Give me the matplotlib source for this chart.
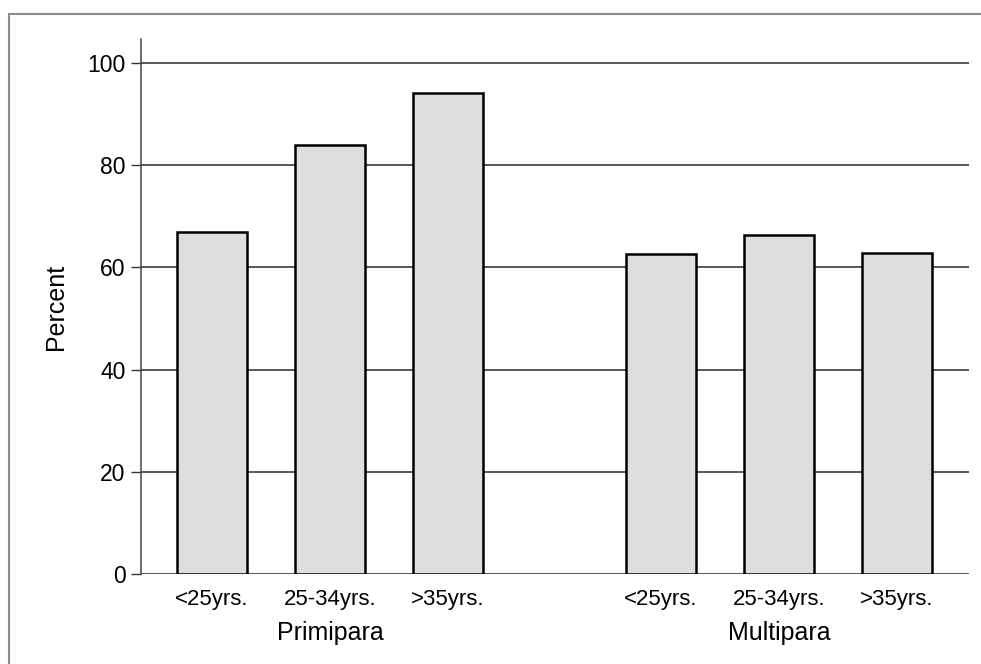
import matplotlib
matplotlib.use("Agg")
import matplotlib.pyplot as plt
import matplotlib.transforms as mtransforms
from matplotlib.patches import Rectangle

plt.rcParams['font.family'] = ['Liberation Sans', 'DejaVu Sans']

groups = ["Primipara", "Multipara"]
age_labels = ["<25yrs.", "25-34yrs.", ">35yrs."]
primipara = [67, 84, 94.2]
multipara = [62.7, 66.4, 62.9]
yticks = [0, 20, 40, 60, 80, 100]

fig = plt.figure(figsize=(9.81, 6.64), dpi=100)
# outer frame
fig.patches.append(Rectangle((9/981, -0.1), 1.2, 1 - 14/664 + 0.1, transform=fig.transFigure,
                             fill=False, edgecolor='#8c8c8c', linewidth=1.5, zorder=0))
ax = fig.add_axes([141/981, 1 - 574/664, (969 - 141)/981, (574 - 39)/664])

gap = 1.8
positions = [0, 1, 2] + [gap + 2 + i for i in range(3)]
values = primipara + multipara
ax.bar(positions, values, width=0.593, color='#dedede', edgecolor='black', linewidth=1.8, zorder=3)

ax.set_xlim(-0.6, positions[-1] + 0.61)
ax.set_ylim(0, 104.7)
ax.set_yticks(yticks)
ax.set_yticklabels([str(v) for v in yticks], fontsize=16.5)
ax.set_xticks(positions)
ax.set_xticklabels(age_labels * 2, fontsize=16)
ax.tick_params(axis='x', length=0, pad=11)
ax.tick_params(axis='y', length=7, width=1, color='#333333', pad=4)

ax.yaxis.grid(True, color='#2a2a2a', linewidth=1.1, zorder=1)
ax.set_axisbelow(True)
for s in ['top', 'right', 'bottom']:
    ax.spines[s].set_visible(False)
ax.spines['left'].set_color('#444444')
ax.spines['left'].set_linewidth(1.1)

ax.set_ylabel("Percent", fontsize=18, labelpad=14)

trans = mtransforms.blended_transform_factory(ax.transData, ax.transAxes)
centers = [positions[1], positions[4]]
for c, g in zip(centers, groups):
    ax.annotate(g, xy=(c, 0), xycoords=trans, xytext=(0, -59), textcoords='offset pixels',
                ha='center', va='center', fontsize=18)

fig.savefig("out.png", dpi=100)
